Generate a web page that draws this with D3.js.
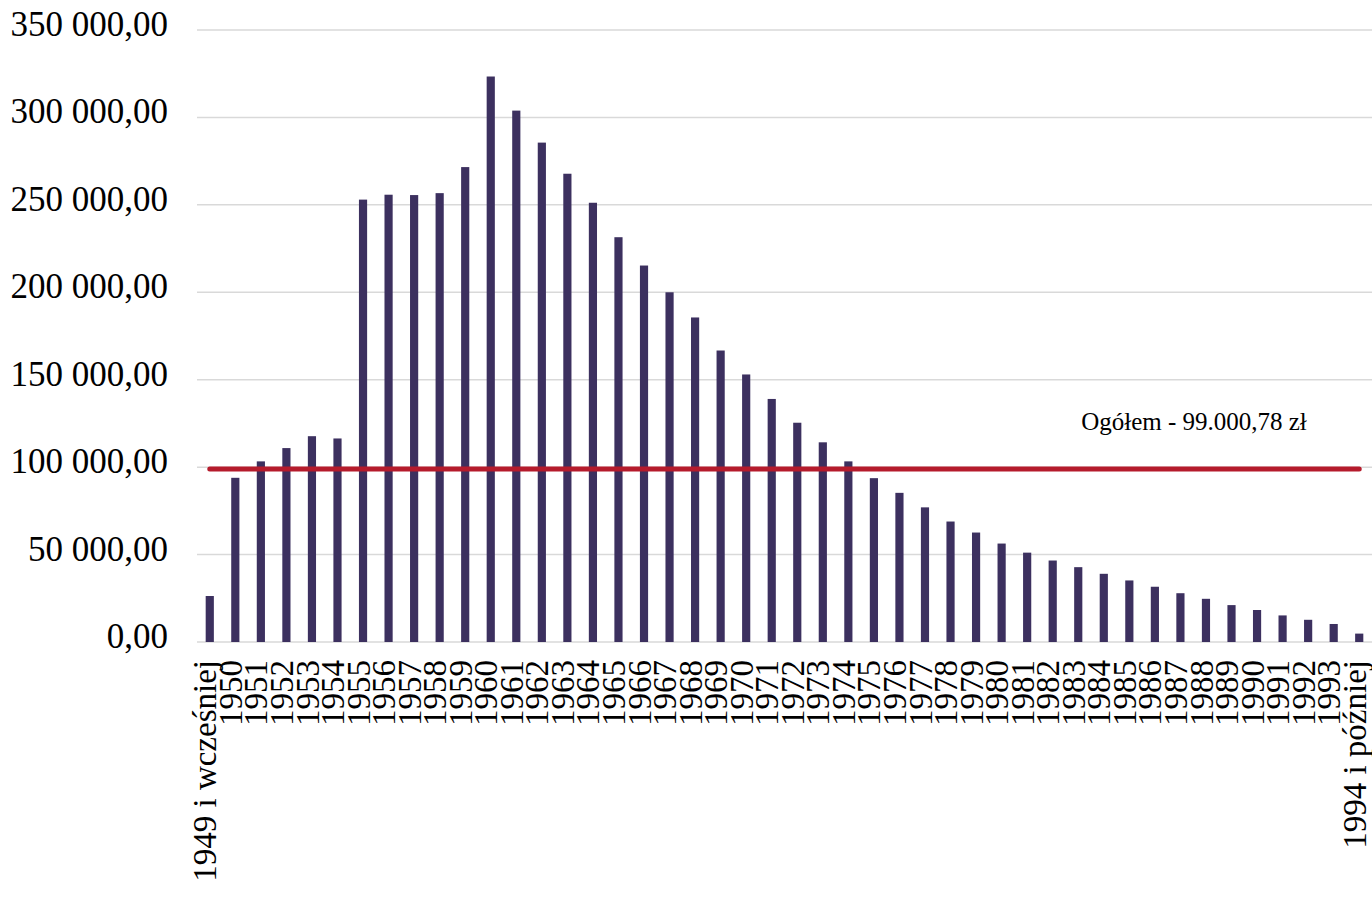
<!DOCTYPE html>
<html>
<head>
<meta charset="utf-8">
<script src="https://cdn.jsdelivr.net/npm/d3@7"></script>
<style>
  html, body { margin: 0; padding: 0; background: #fff; }
  svg text { font-family: "Liberation Serif", "Times New Roman", serif; fill: #000; }
</style>
</head>
<body>
<svg id="chart" width="1372" height="897"></svg>
<script>
var years = ['1949 i wcześniej', '1950', '1951', '1952', '1953', '1954', '1955', '1956', '1957', '1958',
  '1959', '1960', '1961', '1962', '1963', '1964', '1965', '1966', '1967', '1968', '1969', '1970',
  '1971', '1972', '1973', '1974', '1975', '1976', '1977', '1978', '1979', '1980', '1981', '1982',
  '1983', '1984', '1985', '1986', '1987', '1988', '1989', '1990', '1991', '1992', '1993', '1994 i później']

var values = [26300, 93900, 103300, 110900, 117700, 116400, 253000, 255800, 255600, 256700,
  271600, 323400, 303900, 285600, 267800, 251200, 231500, 215300, 200000, 185600, 166700, 153000,
  139000, 125400, 114200, 103300, 93700, 85300, 77000, 68900, 62600, 56300, 51100, 46600,
  42800, 39000, 35200, 31600, 27900, 24700, 21100, 18300, 15200, 12700, 10300, 4800]

var average = 99000.78
var averageLabel = 'Ogółem - 99.000,78 zł'
var yTicks = [0, 50000, 100000, 150000, 200000, 250000, 300000, 350000]

var barColor = '#3c305f'
var lineColor = '#b51b2c'
var gridColor = '#d9d9d9'

var svg = d3.select('#chart')

var x = d3.scaleBand()
  .domain(years)
  .range([197, 1372])
  .paddingInner(0.68)
  .paddingOuter(0.34)

var y = d3.scaleLinear()
  .domain([0, 350000])
  .range([642, 30])

function fmt (v) {
  // 350 000,00 style
  var s = d3.format(',.2f')(v)
  return s.replace(/,/g, ' ').replace('.', ',')
}

// gridlines
svg.append('g')
  .selectAll('line')
  .data(yTicks)
  .enter().append('line')
  .attr('x1', 197)
  .attr('x2', 1372)
  .attr('y1', function (d) { return y(d) })
  .attr('y2', function (d) { return y(d) })
  .attr('stroke', gridColor)
  .attr('stroke-width', 1.5)

// y labels
svg.append('g')
  .selectAll('text')
  .data(yTicks)
  .enter().append('text')
  .attr('x', 168)
  .attr('y', function (d) { return y(d) + 6 })
  .attr('text-anchor', 'end')
  .style('font-size', '35px')
  .text(fmt)

// bars
svg.append('g')
  .selectAll('rect')
  .data(values)
  .enter().append('rect')
  .attr('x', function (d, i) { return x(years[i]) })
  .attr('width', x.bandwidth())
  .attr('y', function (d) { return y(d) })
  .attr('height', function (d) { return y(0) - y(d) })
  .attr('fill', barColor)

// average line
var half = x.bandwidth() / 2
svg.append('line')
  .attr('x1', x(years[0]) + half)
  .attr('x2', x(years[years.length - 1]) + half)
  .attr('y1', y(average))
  .attr('y2', y(average))
  .attr('stroke', lineColor)
  .attr('stroke-width', 5)
  .attr('stroke-linecap', 'round')

svg.append('text')
  .attr('x', 1194)
  .attr('y', 430)
  .attr('text-anchor', 'middle')
  .style('font-size', '25px')
  .text(averageLabel)

// x labels
svg.append('g')
  .selectAll('text')
  .data(years)
  .enter().append('text')
  .attr('transform', function (d) {
    return 'translate(' + (x(d) + half - 4) + ',660) rotate(-90)'
  })
  .attr('text-anchor', 'end')
  .attr('dy', '0.32em')
  .style('font-size', '33px')
  .text(function (d) { return d })
</script>
</body>
</html>
